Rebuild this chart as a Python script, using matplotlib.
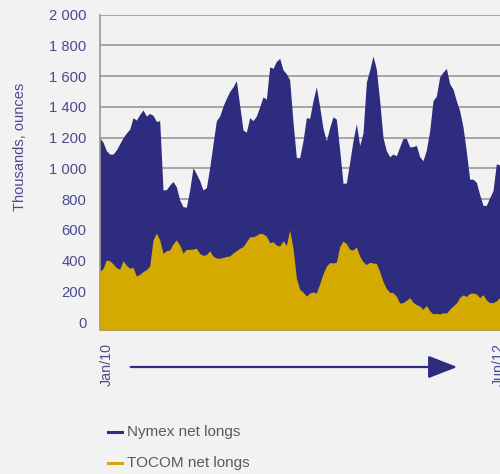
import matplotlib
matplotlib.use("Agg")
import matplotlib.pyplot as plt
from matplotlib.lines import Line2D
from matplotlib.patches import FancyArrowPatch
import numpy as np

# weekly net long positions, thousands of ounces
nymex = [1200, 1170, 1115, 1093, 1093, 1120, 1160, 1200, 1230, 1255, 1330, 1314,
         1350, 1380, 1340, 1357, 1345, 1305, 1310, 860, 862, 892, 915, 880, 795,
         751, 748, 860, 1005, 965, 920, 860, 875, 1005, 1160, 1310, 1340, 1405,
         1455, 1500, 1530, 1570, 1410, 1250, 1235, 1330, 1310, 1340, 1400,
         1465, 1450, 1660, 1650, 1695, 1715, 1640, 1615, 1575, 1300, 1070, 1070,
         1180, 1330, 1325, 1440, 1530, 1400, 1260, 1180, 1265, 1335, 1320, 1120,
         903, 905, 1040, 1180, 1290, 1150, 1230, 1560, 1640, 1730, 1645, 1440,
         1200, 1115, 1076, 1093, 1082, 1140, 1195, 1195, 1140, 1141, 1150, 1076,
         1050, 1120, 1245, 1440, 1470, 1595, 1625, 1650, 1550, 1515, 1440, 1375,
         1270, 1110, 930, 930, 910, 830, 760, 760, 810, 855, 1030, 1022]
tocom = [330, 350, 405, 400, 380, 355, 345, 400, 370, 352, 357, 300,
         312, 330, 342, 365, 535, 580, 535, 448, 465, 470, 510, 535, 502,
         450, 474, 474, 476, 481, 448, 435, 440, 465, 430, 418, 416, 422,
         428, 431, 450, 465, 481, 492, 524, 556, 556, 565, 578,
         575, 560, 517, 524, 502, 496, 530, 500, 600, 480, 290, 215,
         196, 170, 190, 197, 190, 250, 315, 365, 388, 386, 390, 491,
         528, 512, 474, 470, 490, 430, 394, 375, 390, 385, 383, 330,
         265, 220, 195, 192, 170, 125, 128, 143, 160, 130, 116, 106,
         84, 110, 75, 55, 58, 54, 62, 60, 85, 106, 125, 162,
         178, 168, 188, 190, 185, 160, 180, 145, 128, 128, 138, 162]
date_labels = ["Jan/10", "Jun/12"]
date_pos = [2.1, 119.6]
y_ticks = list(range(0, 2001, 200))
series_names = ["Nymex net longs", "TOCOM net longs"]

NAVY = "#2e2c7e"
GOLD = "#d5aa00"
BG = "#f2f2f2"
LABEL = "#4a4a90"

plt.rcParams["font.family"] = ["Liberation Sans", "DejaVu Sans"]

fig = plt.figure(figsize=(5, 4.74), dpi=100, facecolor=BG)
ax = fig.add_axes([99.7 / 500, 1 - 330 / 474, 413.3 / 500, 315.5 / 474])
ax.set_facecolor(BG)

x = np.arange(len(nymex))
ymin = -50
ax.fill_between(x, nymex, ymin, color=NAVY, lw=0, zorder=2)
ax.fill_between(x, tocom, ymin, color=GOLD, lw=0, zorder=3)

ax.set_xlim(0, 124)
ax.set_ylim(ymin, 2000)
ax.set_yticks(y_ticks)
ax.set_yticklabels([f"{v:,}".replace(",", " ") for v in y_ticks])
ax.grid(axis="y", color="#999999", lw=1.2, zorder=1)
ax.set_axisbelow(True)
ax.tick_params(axis="y", length=0, pad=9.5, labelsize=10.6, labelcolor=LABEL)
ax.set_xticks(date_pos)
ax.set_xticklabels(date_labels, rotation=90)
ax.tick_params(axis="x", length=0, pad=9, labelsize=10.3, labelcolor=LABEL)

for s in ["top", "right", "bottom"]:
    ax.spines[s].set_visible(False)
ax.spines["left"].set_color("#999999")
ax.spines["left"].set_linewidth(1.2)

fig.text(20 / 500, 1 - 147 / 474, "Thousands, ounces", rotation=90,
         ha="center", va="center", fontsize=10.5, color=LABEL)

# time arrow under the chart
ay = 1 - 367 / 474
arrow = FancyArrowPatch((128 / 500, ay), (460 / 500, ay), transform=fig.transFigure,
                        arrowstyle="-|>,head_length=18,head_width=7",
                        mutation_scale=1, color=NAVY, lw=1.6)
fig.add_artist(arrow)

# legend
for name, col, yp in zip(series_names, [NAVY, GOLD], [432, 463]):
    yf = 1 - yp / 474
    fig.add_artist(Line2D([108 / 500, 122 / 500], [yf, yf], color=col, lw=2.2,
                          transform=fig.transFigure))
    fig.text(127 / 500, yf, name, ha="left", va="center", fontsize=11,
             color="#5a5a5a")

fig.savefig("out.png", dpi=100, facecolor=BG)
